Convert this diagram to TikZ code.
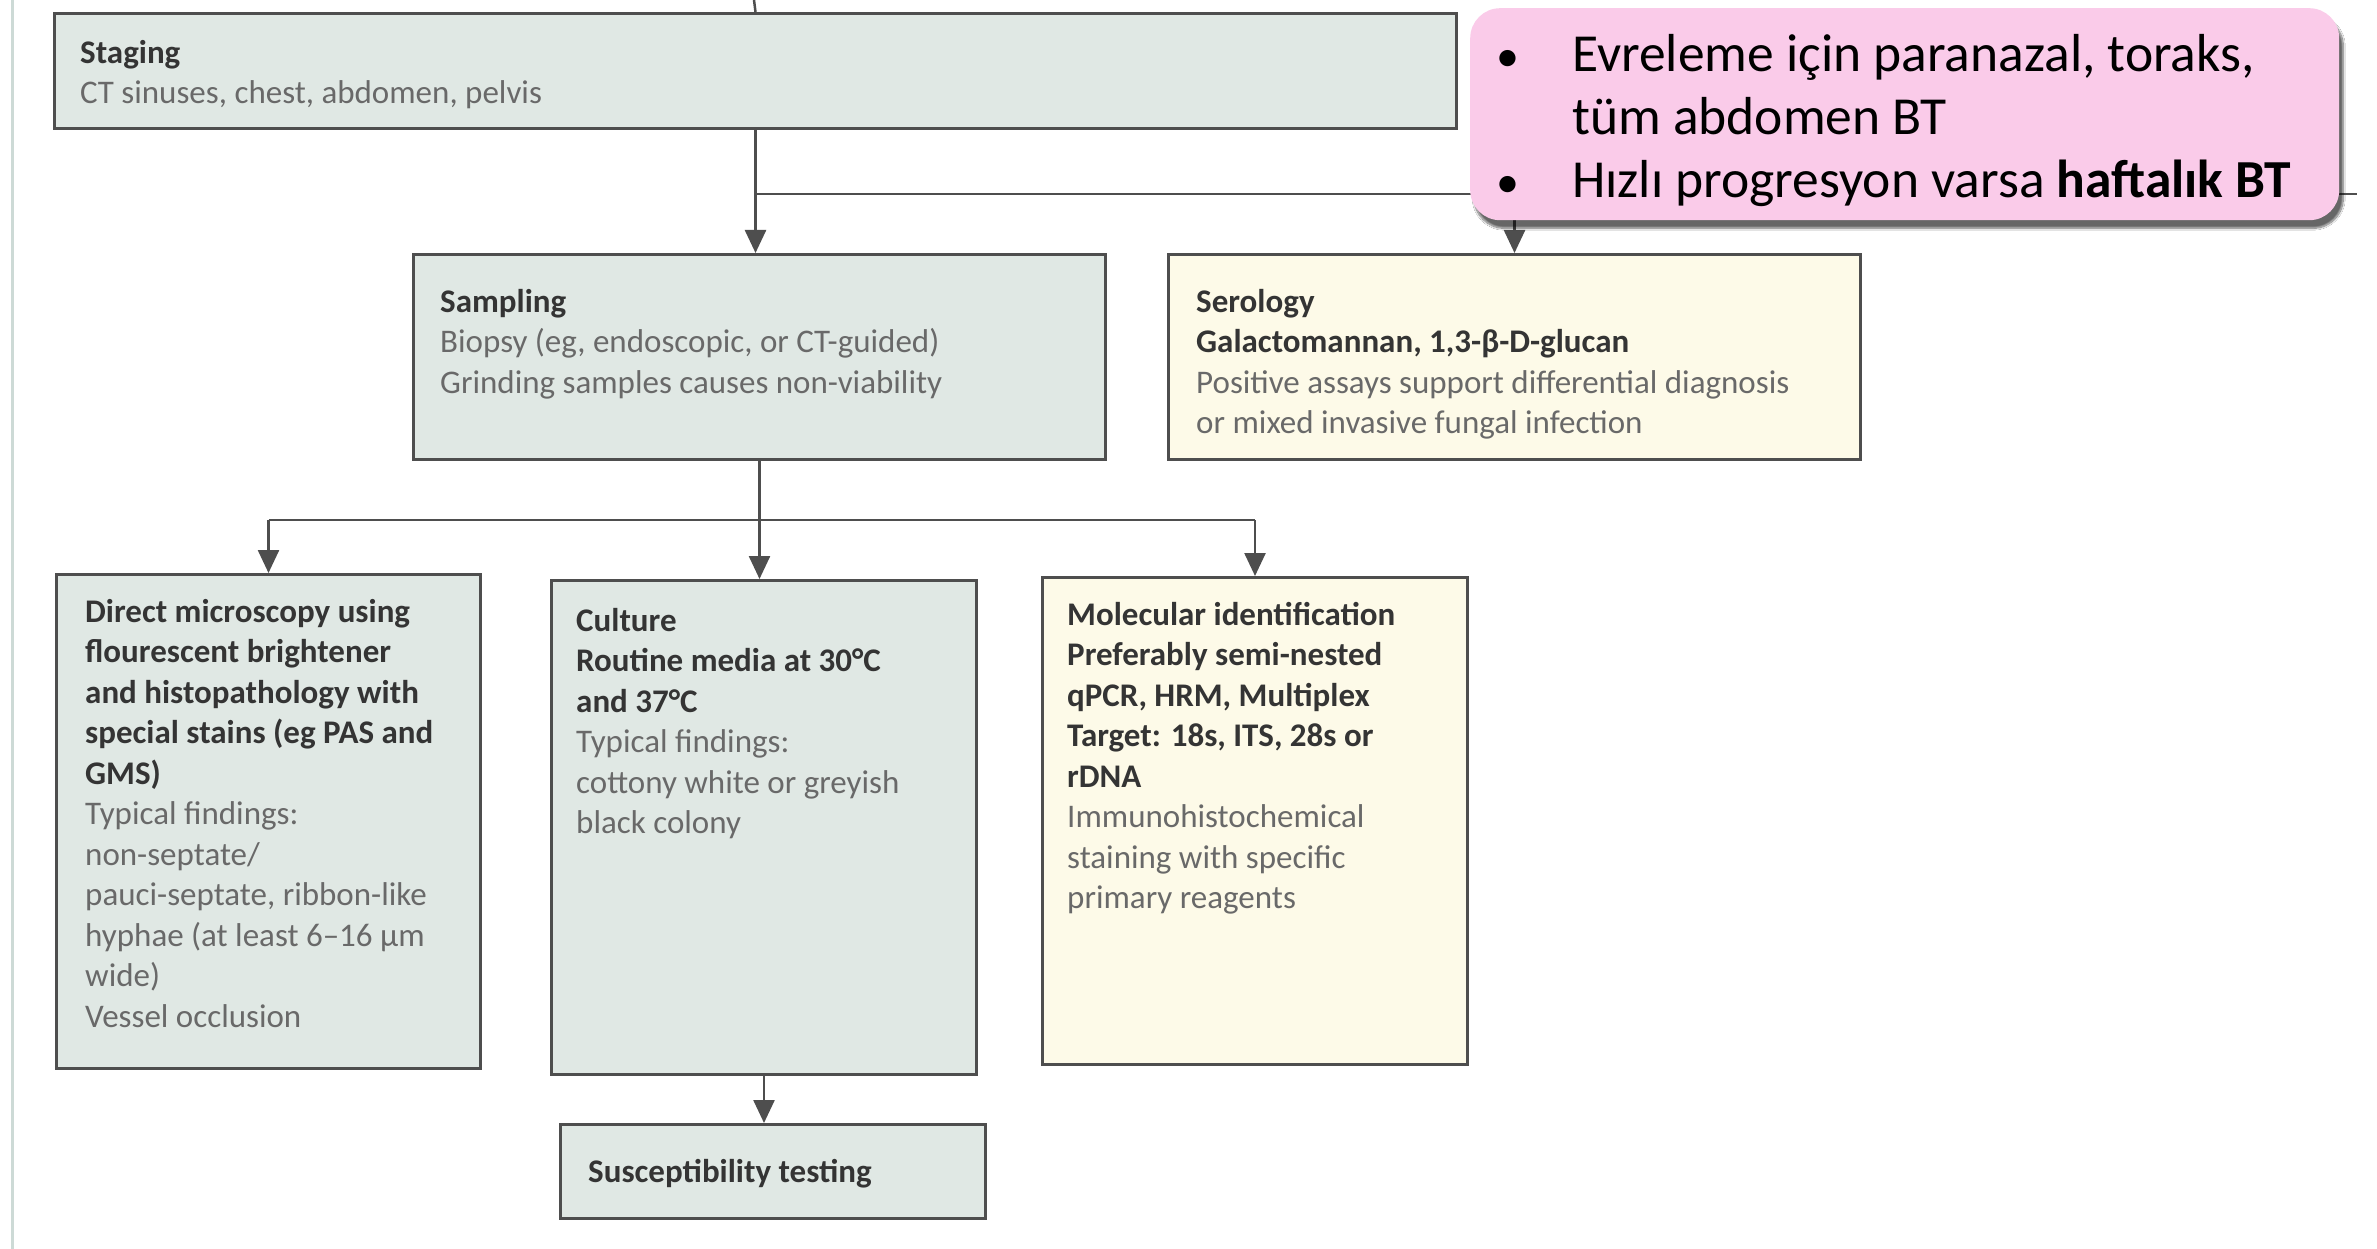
\documentclass[tikz,border=0pt]{standalone}
\usepackage{fontspec}
\setmainfont{Carlito}
\usetikzlibrary{arrows.meta,shadows.blur,calc}

\definecolor{boxgreen}{RGB}{224,232,228}
\definecolor{boxcream}{RGB}{253,250,232}
\definecolor{edgecol}{RGB}{78,78,78}
\definecolor{titlecol}{RGB}{52,52,52}
\definecolor{bodycol}{RGB}{105,105,105}
\definecolor{notepink}{RGB}{250,203,233}
\definecolor{pagerule}{RGB}{205,218,214}

\newcommand\headtxt[1]{\textcolor{titlecol}{\bfseries #1}}

\begin{document}
\begin{tikzpicture}[x=1pt,y=-1pt,
  panel/.style={draw=edgecol, line width=3pt, rectangle, inner sep=0pt, anchor=north west},
  greenpanel/.style={panel, fill=boxgreen},
  creampanel/.style={panel, fill=boxcream},
  body/.style={anchor=north west, align=left, inner sep=0pt, text=bodycol,
    font=\fontsize{33}{40.5}\selectfont},
  wire/.style={draw=edgecol, line width=2.5pt},
  conn/.style={wire, -{Triangle[width=21pt,length=23pt]}},
  notetext/.style={inner sep=0pt, text=black, font=\fontsize{53.5}{63}\selectfont},
]
\fill[white] (0,0) rectangle (2377,1249);
\useasboundingbox (0,0) rectangle (2377,1249);

% thin rule along the left page edge
\draw[pagerule, line width=3pt] (12,0) -- (12,1249);

% boxes
\node[greenpanel, minimum width=1402pt, minimum height=115pt] (staging) at (53,12) {};
\node[greenpanel, minimum width=692pt, minimum height=205pt] (sampling) at (412,253) {};
\node[creampanel, minimum width=692pt, minimum height=205pt] (serology) at (1167,253) {};
\node[greenpanel, minimum width=424pt, minimum height=494pt] (direct) at (55,573) {};
\node[greenpanel, minimum width=425pt, minimum height=494pt] (culture) at (550,579) {};
\node[creampanel, minimum width=425pt, minimum height=487pt] (molecular) at (1041,576) {};
\node[greenpanel, minimum width=425pt, minimum height=94pt] (suscept) at (559,1123) {};

% box texts
\node[body] (stagingtxt) at (80,40) {\headtxt{Staging}\\CT sinuses, chest, abdomen, pelvis};
\node[body] (samplingtxt) at (440,289) {\headtxt{Sampling}\\Biopsy (eg, endoscopic, or CT-guided)\\Grinding samples causes non-viability};
\node[body] (serologytxt) at (1196,289) {\headtxt{Serology}\\\headtxt{Galactomannan, 1,3-β-D-glucan}\\Positive assays support differential diagnosis\\or mixed invasive fungal infection};
\node[body] (directtxt) at (85,599) {\headtxt{Direct microscopy using}\\\headtxt{flourescent brightener}\\\headtxt{and histopathology with}\\\headtxt{special stains (eg PAS and}\\\headtxt{GMS)}\\Typical findings:\\non-septate/\\pauci-septate, ribbon-like\\hyphae (at least 6–16 µm\\wide)\\Vessel occlusion};
\node[body] (culturetxt) at (576,608) {\headtxt{Culture}\\\headtxt{Routine media at 30°C}\\\headtxt{and 37°C}\\Typical findings:\\cottony white or greyish\\black colony};
\node[body] (moleculartxt) at (1067,602) {\headtxt{Molecular identification}\\\headtxt{Preferably semi-nested}\\\headtxt{qPCR, HRM, Multiplex}\\\headtxt{Target: 18s, ITS, 28s or}\\\headtxt{rDNA}\\Immunohistochemical\\staining with specific\\primary reagents};
\node[body] (suscepttxt) at (588,1159) {\headtxt{Susceptibility testing}};

% connectors
\coordinate (topin) at (754,0);
\coordinate (split1) at (754,194);
\coordinate (split1end) at (2357,194);
\coordinate (split2) at (sampling.south |- 0,520);

\draw[wire] (topin) -- (staging.north);
\draw[conn] (staging.south) -- (staging.south |- sampling.north);
\draw[wire] (split1) -- (split1end);
\draw[conn] (split1 -| serology.north) -- (serology.north);

\draw[wire] (sampling.south) -- (split2);
\draw[wire] (split2 -| direct.north) -- (split2 -| molecular.north);
\draw[conn] (split2 -| direct.north) -- (direct.north);
\draw[conn] (split2) -- (split2 |- culture.north);
\draw[conn] (split2 -| molecular.north) -- (molecular.north);
\draw[conn] (culture.south) -- (culture.south |- suscept.north);

% note callout
\node[rectangle, rounded corners=30pt, fill=notepink, anchor=north west,
  minimum width=869pt, minimum height=212pt, inner sep=0pt,
  blur shadow={shadow xshift=4pt, shadow yshift=-8pt, shadow blur steps=12, shadow opacity=60}]
  (note) at (1470,8) {};
\node[notetext, anchor=base, font=\fontsize{46}{63}\selectfont] (bulletA) at (1508,72) {•};
\node[notetext, anchor=base west] (noteA) at (1572,72) {Evreleme için paranazal, toraks,};
\node[notetext, anchor=base west] (noteB) at (1572,135) {tüm abdomen BT};
\node[notetext, anchor=base, font=\fontsize{46}{63}\selectfont] (bulletB) at (1508,198) {•};
\node[notetext, anchor=base west] (noteC) at (1572,198) {Hızlı progresyon varsa \textbf{haftalık BT}};
\end{tikzpicture}
\end{document}
